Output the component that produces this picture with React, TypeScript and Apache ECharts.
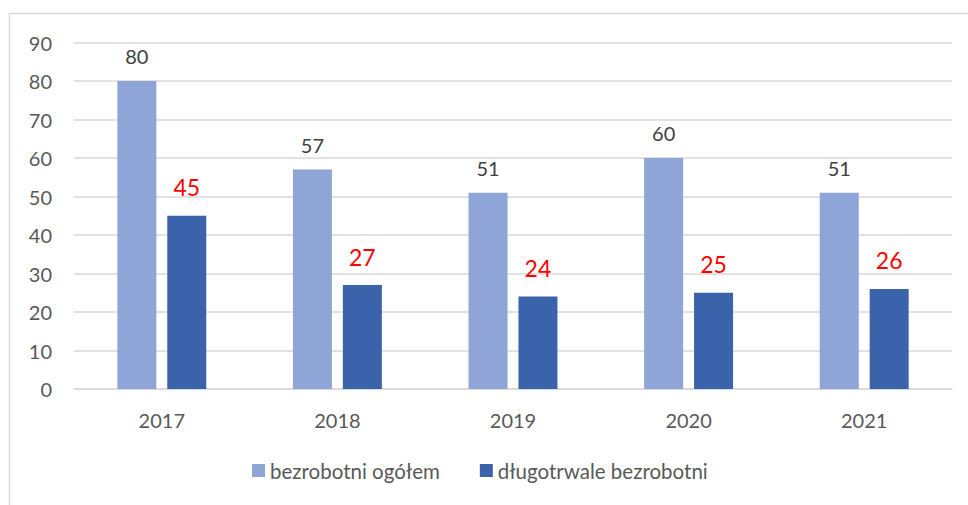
import React, { useEffect, useRef } from "react";
import * as echarts from "echarts";

const years = ["2017", "2018", "2019", "2020", "2021"];
const ogolem = [80, 57, 51, 60, 51];
const dlugotrwale = [45, 27, 24, 25, 26];
const seriesNames = ["bezrobotni ogółem", "długotrwale bezrobotni"];

const FONT = "Lato, 'Open Sans', sans-serif";

export default function App() {
  const ref = useRef<HTMLDivElement>(null);
  useEffect(() => {
    if (!ref.current) return;
    const chart = echarts.init(ref.current, undefined, { renderer: "svg" });
    chart.setOption({
      animation: false,
      backgroundColor: "#ffffff",
      textStyle: { fontFamily: FONT },
      graphic: [
        {
          type: "rect",
          shape: { x: 9.5, y: 13.5, width: 1200, height: 1000 },
          style: { fill: "none", stroke: "#d9d9d9", lineWidth: 1.5 },
          silent: true,
        },
      ],
      grid: { left: 74, right: 16, top: 42.5, bottom: 116, containLabel: false },
      legend: {
        left: 247,
        top: 455,
        icon: "rect",
        itemWidth: 13,
        itemHeight: 13,
        itemGap: 40,
        textStyle: { fontFamily: FONT, fontSize: 20.5, color: "#595959" },
        data: seriesNames,
      },
      xAxis: {
        type: "category",
        data: years,
        axisLine: { lineStyle: { color: "#d9d9d9", width: 1.5 } },
        axisTick: { show: false },
        axisLabel: { fontFamily: FONT, fontSize: 20, color: "#595959", margin: 21 },
      },
      yAxis: {
        type: "value",
        min: 0,
        max: 90,
        interval: 10,
        axisLine: { show: false },
        axisTick: { show: false },
        splitLine: { lineStyle: { color: "#d9d9d9", width: 1.5 } },
        axisLabel: { fontFamily: FONT, fontSize: 20, color: "#595959", margin: 22 },
      },
      series: [
        {
          name: seriesNames[0],
          type: "bar",
          data: ogolem,
          barWidth: 39,
          barGap: "28%",
          itemStyle: { color: "#8FA5D7" },
          label: {
            show: true,
            position: "top",
            distance: 15,
            fontFamily: FONT,
            fontSize: 20,
            color: "#404040",
          },
        },
        {
          name: seriesNames[1],
          type: "bar",
          data: dlugotrwale,
          barWidth: 39,
          barGap: "28%",
          itemStyle: { color: "#3A63AB" },
          label: {
            show: true,
            position: "top",
            distance: 17,
            fontFamily: FONT,
            fontSize: 23,
            color: "#ff0000",
          },
        },
      ],
    });
    return () => chart.dispose();
  }, []);
  return (
    <div
      ref={ref}
      style={{ position: "absolute", left: 0, top: 0, width: 968, height: 505 }}
    />
  );
}
